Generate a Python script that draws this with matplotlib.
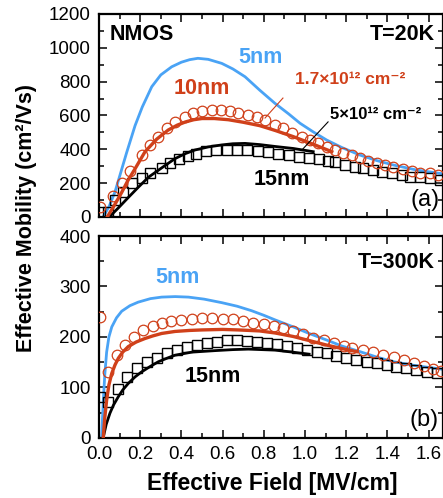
import matplotlib
matplotlib.use("Agg")
import matplotlib.pyplot as plt
from matplotlib.ticker import MultipleLocator, FormatStrFormatter

plt.rcParams['font.family'] = ['Liberation Sans', 'DejaVu Sans']

### COLORS ###
blue = '#4aa3f5'
red = '#d0401a'

### T = 20K (a) ###
a_5nm_x = [0.02, 0.05, 0.078, 0.10, 0.134, 0.175, 0.21, 0.256, 0.30, 0.353, 0.40, 0.44,
           0.48, 0.53, 0.596, 0.65, 0.709, 0.78, 0.854, 0.92, 0.976, 1.04, 1.105,
           1.18, 1.267, 1.35, 1.43, 1.54, 1.67]
a_5nm_y = [0, 65, 150, 240, 380, 540, 650, 770, 840, 888, 915, 930,
           938, 932, 908, 875, 829, 750, 672, 610, 554, 503, 455,
           410, 366, 333, 307, 278, 255]

a_10nm_x = [0.04, 0.075, 0.11, 0.14, 0.175, 0.223, 0.28, 0.336, 0.38, 0.42, 0.46, 0.5,
            0.56, 0.628, 0.70, 0.78, 0.854, 0.943, 1.04, 1.13]
a_10nm_y = [0, 70, 145, 215, 285, 385, 460, 514, 543, 562, 575, 582,
            582, 575, 560, 540, 512, 475, 430, 386]

a_15nm_x = [0.05, 0.095, 0.142, 0.19, 0.24, 0.304, 0.369, 0.42, 0.466, 0.53, 0.596,
            0.65, 0.709, 0.78, 0.854, 0.943, 1.04]
a_15nm_y = [0, 55, 115, 175, 235, 290, 345, 375, 396, 414, 426,
            433, 435, 428, 417, 405, 386]

a_circ_x = [0.005, 0.07, 0.11, 0.15, 0.207, 0.248, 0.288, 0.329, 0.369, 0.417, 0.458,
            0.498, 0.547, 0.592, 0.636, 0.676, 0.725, 0.765, 0.806, 0.854, 0.895,
            0.935, 0.984, 1.024, 1.065, 1.105, 1.146, 1.186, 1.227, 1.267, 1.307,
            1.348, 1.388, 1.429, 1.477, 1.518, 1.558, 1.607, 1.647]
a_circ_y = [61, 125, 200, 270, 366, 426, 475, 524, 563, 593, 617,
            628, 632, 632, 627, 617, 603, 589, 573, 544, 524,
            495, 475, 455, 436, 416, 396, 380, 366, 347, 333,
            321, 307, 297, 282, 274, 262, 258, 248]

a_sq_x = [0.005, 0.045, 0.078, 0.118, 0.159, 0.207, 0.248, 0.304, 0.345, 0.39, 0.43,
          0.47, 0.52, 0.57, 0.62, 0.67, 0.72, 0.77, 0.82, 0.87, 0.92, 0.97, 1.02,
          1.07, 1.11, 1.146, 1.194, 1.243, 1.283, 1.332, 1.372, 1.421, 1.469, 1.51,
          1.558, 1.607, 1.655]
a_sq_y = [31, 31, 100, 150, 199, 229, 258, 288, 317, 340, 360,
          375, 388, 395, 398, 398, 396, 390, 383, 374, 365, 356, 348,
          340, 333, 327, 307, 297, 288, 278, 268, 258, 248, 238,
          234, 229, 219]

### T = 300K (b) ###
b_5nm_x = [0.013, 0.017, 0.021, 0.028, 0.037, 0.048, 0.062, 0.085, 0.11, 0.15, 0.19,
           0.25, 0.304, 0.37, 0.434, 0.51, 0.596, 0.67, 0.741, 0.8, 0.854, 0.943,
           1.02, 1.105, 1.18, 1.267, 1.35, 1.43, 1.54, 1.67]
b_5nm_y = [3, 40, 75, 125, 170, 200, 220, 238, 251, 262, 269,
           276, 279, 280, 279, 275, 268, 261, 252, 243, 234, 220,
           207, 194, 182, 171, 160, 151, 143, 136]

b_10nm_x = [0.021, 0.028, 0.037, 0.048, 0.062, 0.078, 0.094, 0.115, 0.142, 0.18, 0.223,
            0.26, 0.304, 0.369, 0.44, 0.5, 0.6, 0.676, 0.78, 0.854, 0.943, 1.02,
            1.105, 1.18, 1.25]
b_10nm_y = [3, 40, 75, 105, 128, 145, 158, 170, 181, 190, 197,
            202, 207, 211, 213, 214, 215, 214, 212, 208, 201, 193,
            184, 177, 171]

b_15nm_x = [0.02, 0.035, 0.053, 0.07, 0.094, 0.115, 0.142, 0.175, 0.207, 0.25, 0.288,
            0.33, 0.369, 0.45, 0.563, 0.65, 0.725, 0.854, 0.94, 1.02]
b_15nm_y = [0, 27, 49, 65, 82, 95, 108, 121, 131, 142, 151,
            158, 164, 170, 173, 175, 176, 174, 170, 166]

b_circ_x = [0.005, 0.045, 0.086, 0.126, 0.17, 0.215, 0.26, 0.305, 0.35, 0.40, 0.45,
            0.50, 0.55, 0.60, 0.65, 0.70, 0.75, 0.80, 0.85, 0.895, 0.94, 0.99,
            1.04, 1.09, 1.14, 1.19, 1.23, 1.28, 1.33, 1.38, 1.43, 1.48, 1.53,
            1.58, 1.62, 1.66]
b_circ_y = [240, 130, 164, 184, 200, 213, 221, 227, 231, 234, 236,
            237, 237, 236, 235, 232, 228, 225, 221, 217, 212, 205,
            199, 194, 188, 182, 178, 174, 170, 165, 161, 155, 149,
            142, 137, 132]

b_sq_x = [0.005, 0.045, 0.094, 0.134, 0.183, 0.231, 0.28, 0.329, 0.377, 0.426, 0.474,
          0.523, 0.571, 0.62, 0.67, 0.718, 0.767, 0.815, 0.864, 0.912, 0.96, 1.01,
          1.06, 1.105, 1.15, 1.2, 1.25, 1.3, 1.35, 1.4, 1.44, 1.49, 1.54, 1.59, 1.64]
b_sq_y = [82, 72, 98, 121, 138, 151, 158, 168, 174, 181, 184,
          188, 191, 194, 194, 193, 191, 189, 186, 183, 179, 175,
          171, 168, 163, 159, 155, 151, 148, 145, 141, 138, 135, 131, 128]


def style_axes(ax, ymax, ymajor, yminor):
    ax.set_xlim(0, 1.67)
    ax.set_ylim(0, ymax)
    ax.xaxis.set_major_locator(MultipleLocator(0.2))
    ax.xaxis.set_minor_locator(MultipleLocator(0.1))
    ax.yaxis.set_major_locator(MultipleLocator(ymajor))
    ax.yaxis.set_minor_locator(MultipleLocator(yminor))
    ax.tick_params(which='both', direction='in', top=True, right=True, width=1.1,
                   labelsize=13.5, pad=6)
    ax.tick_params(which='major', length=5.5)
    ax.tick_params(which='minor', length=3.5)
    for sp in ax.spines.values():
        sp.set_linewidth(1.6)


def draw(ax, x5, y5, x10, y10, x15, y15, cx, cy, sx, sy):
    ax.plot(x5, y5, color=blue, lw=2.0, zorder=2, solid_joinstyle='round')
    ax.plot(sx, sy, 's', ms=6.8, mfc='none', mec='k', mew=1.0, zorder=3)
    ax.plot(cx, cy, 'o', ms=7.6, mfc='none', mec=red, mew=0.9, zorder=4)
    ax.plot(x15, y15, color='k', lw=2.0, zorder=5, solid_joinstyle='round')
    ax.plot(x10, y10, color=red, lw=2.4, zorder=6, solid_joinstyle='round')


fig = plt.figure(figsize=(4.43, 4.98), dpi=100)
ax1 = fig.add_axes([0.2235, 0.5643, 0.7765, 0.4076])
ax2 = fig.add_axes([0.2235, 0.1205, 0.7765, 0.4056])

draw(ax1, a_5nm_x, a_5nm_y, a_10nm_x, a_10nm_y, a_15nm_x, a_15nm_y,
     a_circ_x, a_circ_y, a_sq_x, a_sq_y)
draw(ax2, b_5nm_x, b_5nm_y, b_10nm_x, b_10nm_y, b_15nm_x, b_15nm_y,
     b_circ_x, b_circ_y, b_sq_x, b_sq_y)

style_axes(ax1, 1200, 200, 100)
style_axes(ax2, 400, 100, 50)
ax1.tick_params(labelbottom=False)
ax2.xaxis.set_major_formatter(FormatStrFormatter('%.1f'))

### TEXTS (a) ###
ax1.text(0.053, 1076, "NMOS", fontsize=15.5, fontweight='bold', ha='left', va='center')
ax1.text(1.63, 1076, "T=20K", fontsize=15.5, fontweight='bold', ha='right', va='center')
ax1.text(0.786, 940, "5nm", fontsize=15.5, fontweight='bold', color=blue, ha='center', va='center')
ax1.text(0.5, 762, "10nm", fontsize=15.5, fontweight='bold', color=red, ha='center', va='center')
ax1.text(0.888, 219, "15nm", fontsize=15.5, fontweight='bold', ha='center', va='center')
ax1.text(1.22, 810, "1.7×10¹² cm⁻²", fontsize=12.5, fontweight='bold', color=red,
         ha='center', va='center')
ax1.text(1.345, 603, "5×10¹² cm⁻²", fontsize=12, fontweight='bold', ha='center', va='center')
ax1.plot([0.893, 0.806], [703, 585], color=red, lw=0.8, zorder=7)
ax1.plot([1.112, 0.985], [562, 396], color='k', lw=0.8, zorder=7)
ax1.text(1.583, 100, "(a)", fontsize=17, ha='center', va='center')

### TEXTS (b) ###
ax2.text(1.63, 347, "T=300K", fontsize=15.5, fontweight='bold', ha='right', va='center')
ax2.text(0.379, 317, "5nm", fontsize=15.5, fontweight='bold', color=blue, ha='center', va='center')
ax2.text(0.553, 121, "15nm", fontsize=15.5, fontweight='bold', ha='center', va='center')
ax2.text(1.578, 36, "(b)", fontsize=17, ha='center', va='center')

fig.text(272 / 443, 1 - 483 / 498, "Effective Field [MV/cm]", fontsize=16.5,
         fontweight='bold', ha='center', va='center')
fig.text(27 / 443, 1 - 218 / 498, "Effective Mobility (cm²/Vs)", fontsize=15.5,
         fontweight='bold', ha='center', va='center', rotation=90)

fig.savefig("out.png", dpi=100)
